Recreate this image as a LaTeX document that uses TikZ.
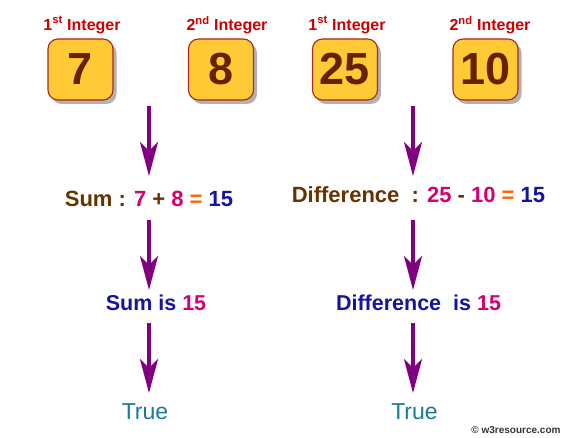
\documentclass[tikz,border=0pt]{standalone}
\usepackage{fontspec}
\setmainfont{Liberation Sans}
\usetikzlibrary{arrows.meta,shadows}
\definecolor{labelred}{HTML}{CC0000}
\definecolor{boxfill}{HTML}{FFCA35}
\definecolor{boxborder}{HTML}{A8281E}
\definecolor{numbrown}{HTML}{662200}
\definecolor{txtbrown}{HTML}{663300}
\definecolor{mag}{HTML}{D6006F}
\definecolor{orng}{HTML}{FF6600}
\definecolor{dblue}{HTML}{1414A0}
\definecolor{teal}{HTML}{1B7A9A}
\definecolor{arrpurple}{HTML}{800080}
\begin{document}
\begin{tikzpicture}[x=1pt,y=-1pt,
  intlabel/.style={font=\fontsize{16}{18}\selectfont\bfseries,text=labelred,inner sep=0pt},
  numbox/.style={draw=boxborder,line width=1.1pt,fill=boxfill,rounded corners=10pt,
    minimum width=65pt,minimum height=61pt,inner sep=0pt,
    font=\fontsize{45}{50}\selectfont\bfseries,text=numbrown,
    drop shadow={shadow xshift=3.5pt,shadow yshift=-4pt,fill=black,opacity=0.3}},
  exprtext/.style={font=\fontsize{22}{26}\selectfont\bfseries,inner sep=0pt},
  restext/.style={font=\fontsize{21.5}{26}\selectfont\bfseries,inner sep=0pt},
  truetext/.style={font=\fontsize{23}{27}\selectfont,text=teal,inner sep=0pt},
  flow/.style={arrpurple,line width=4pt,-{Stealth[length=34pt,width=18pt,inset=9pt]}}]
\useasboundingbox (0,0) rectangle (567,438);
% labels
\node[intlabel] (l1) at (82,25) {1\textsuperscript{st} Integer};
\node[intlabel] (l2) at (227,25) {2\textsuperscript{nd} Integer};
\node[intlabel] (l3) at (347,25) {1\textsuperscript{st} Integer};
\node[intlabel] (l4) at (490,25) {2\textsuperscript{nd} Integer};
% boxes
\node[numbox] (b1) at (80.5,69.5) {7};
\node[numbox] (b2) at (221,69.5) {8};
\node[numbox] (b3) at (345,69.5) {25};
\node[numbox] (b4) at (485.5,69.5) {10};
% text rows
\node[exprtext] (sum) at (149,199) {\textcolor{txtbrown}{Sum :} \textcolor{mag}{7} \textcolor{txtbrown}{+} \textcolor{mag}{8} \textcolor{orng}{=} \textcolor{dblue}{15}};
\node[exprtext] (diff) at (418.5,195) {\textcolor{txtbrown}{Difference\ \ :} \textcolor{mag}{25} \textcolor{txtbrown}{-} \textcolor{mag}{10} \textcolor{orng}{=} \textcolor{dblue}{15}};
\node[restext] (sumis) at (156,303) {\textcolor{dblue}{Sum is} \textcolor{mag}{15}};
\node[restext] (diffis) at (418.5,303) {\textcolor{dblue}{Difference\ \ is} \textcolor{mag}{15}};
\node[truetext] (t1) at (145,412) {True};
\node[truetext] (t2) at (414.5,412) {True};
\node[font=\fontsize{10}{12}\selectfont\bfseries,text=black!80,inner sep=0pt] (wm) at (516,430) {\textcopyright\ w3resource.com};
% arrow coordinates
\coordinate (la1s) at (149,106); \coordinate (la1e) at (149,176);
\coordinate (la2s) at (149,220); \coordinate (la2e) at (149,290);
\coordinate (la3s) at (149,323); \coordinate (la3e) at (149,393);
\coordinate (ra1s) at (413,106); \coordinate (ra1e) at (413,176);
\coordinate (ra2s) at (413,220); \coordinate (ra2e) at (413,290);
\coordinate (ra3s) at (413,323); \coordinate (ra3e) at (413,393);
\draw[flow] (la1s) -- (la1e);
\draw[flow] (la2s) -- (la2e);
\draw[flow] (la3s) -- (la3e);
\draw[flow] (ra1s) -- (ra1e);
\draw[flow] (ra2s) -- (ra2e);
\draw[flow] (ra3s) -- (ra3e);
\end{tikzpicture}
\end{document}
